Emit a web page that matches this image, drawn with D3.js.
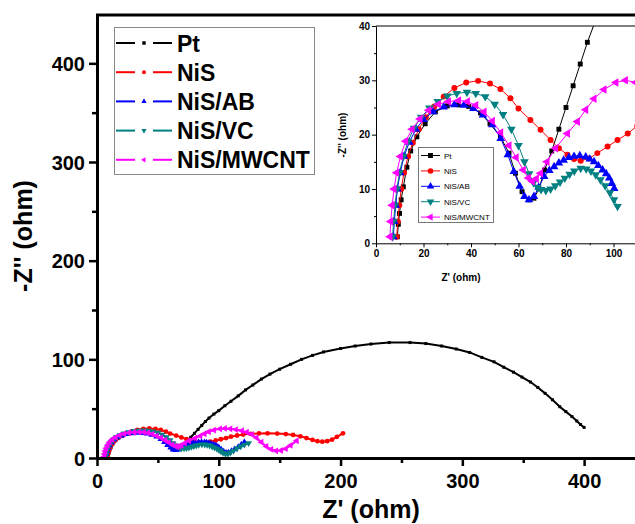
<!DOCTYPE html>
<html>
<head>
<meta charset="utf-8">
<script src="https://cdn.jsdelivr.net/npm/d3@7"></script>
<style>
  body { margin: 0; background: #fff; }
  text { font-family: "Liberation Sans", Arial, sans-serif; }
</style>
</head>
<body>
<div id="chart"></div>
<script>
const width = 635;
const height = 524;

// series names and colours
const names = ["Pt", "NiS", "NiS/AB", "NiS/VC", "NiS/MWCNT"];
const colors = ["#000000", "#ff0000", "#0000ff", "#008080", "#ff00ff"];

// [Z', -Z''] pairs
const ptData = [[9,1.2],[9.4,3.5],[9.9,5.5],[10.6,8],[11.5,10.4],[13,14],[14.6,17],[17.2,19.6],[20.7,22],[25,24.2],[30,25.3],[34.8,25.5],[39,25.2],[44,24],[48,22],[52.4,19.6],[56,16.6],[58.7,12.9],[61.5,9.5],[64.4,8],[66.5,8.3],[68.6,10],[71,13.5],[74,17],[77,21],[80,25],[83,29],[86,33],[89,37],[92,40.5],[96,44.5],[100,48],[105,53],[110,57.5],[116,63],[122,69],[128,74],[135,80],[142,85],[150,90],[159,95],[168,100],[177,104],[186,107.5],[200,111],[212,113.5],[225,115.5],[240,117],[257,117],[270,116],[283,113.5],[295,110.5],[306,107],[316,102],[326,97.5],[334,92],[342,87],[349,82],[356,77],[362,71.5],[368,65.5],[374,59],[380,52],[385,47],[390,42],[394,37.5],[397,34],[400,31]];
const nisData = [[8.7,1.2],[9.2,4],[9.8,7],[10.6,10],[11.8,13],[13.5,16],[15.5,18.5],[18,21],[21,23.2],[24.5,25.2],[28.5,27],[33,28.6],[38,29.6],[43,29.9],[48,29.4],[52.4,28.4],[56.6,26.7],[60,24.8],[65,22.7],[69.3,20.9],[73.5,19],[77,17.5],[80.6,16.3],[83.4,15.5],[86.2,15.2],[89.7,15.6],[93.2,16.6],[97.5,17.8],[101.7,19],[106,20.2],[110,21.6],[115,22.8],[120,23.8],[126,24.5],[133,24.9],[140,25],[148,24.8],[155,24.3],[161,23.4],[167,22],[172,20.2],[177,18.3],[181,17],[185,16.5],[189,17],[193,18.6],[197,21.5],[202,25]];
const abData = [[7.3,1.2],[7.7,4],[8.3,7],[9,10],[10.2,13],[11.8,16],[14,18.6],[16.8,21],[20,22.8],[24,24.2],[28.5,25.1],[33,25.5],[37,25.4],[41,24.8],[45,23.6],[49,21.8],[52.5,19.3],[55.5,16.3],[58,13.2],[60.5,10.5],[62.5,8.6],[64.4,8],[66.5,8.6],[68.5,10.3],[70.8,12.3],[73,13.4],[75,14.1],[77,14.8],[79,15.3],[81.2,15.8],[83.4,16],[85.8,16.1],[88.3,15.9],[90,15.5],[91.8,15],[93.6,14.3],[95.4,13.5],[96.9,12.8],[98.2,12],[99.3,11],[100.3,10.1],[102,8.5],[104,6.5],[106,5.2],[108,5.5],[110.5,7],[113,8.8],[116,11],[118.5,13.5],[121,16]];
const vcData = [[7,1.2],[7.4,4],[8,7],[8.8,10],[9.9,13],[11.5,16],[13.5,18.8],[16,21.2],[19,23.2],[22.5,24.9],[26,26.1],[30,27.1],[34,27.6],[38.3,27.8],[42,27.6],[46,27],[50,25.6],[53.5,23.7],[57,21],[60,18],[62.5,15],[64.5,12.8],[66.3,11.2],[68,10.3],[69.5,9.9],[71.5,9.7],[73.5,10],[75.5,10.6],[77.5,11.3],[79.5,12],[81.5,12.7],[83.5,13.3],[86.2,13.8],[88.5,13.7],[90.5,13.3],[92.5,12.6],[94.5,11.7],[96.5,10.6],[98.5,9.3],[100.2,8],[101.7,6.8],[103.5,5.2],[105.5,4.2],[107.5,4.3],[109.5,5.5],[112,7.5],[115,9.8],[118,11.8],[121,13.5],[124.5,15]];
const mwcntData = [[5.9,1.2],[6.2,4],[6.8,7],[7.6,10],[8.7,13],[10.3,16],[12.5,18.8],[15.2,21],[18.5,22.9],[22.2,24.5],[26.3,25.6],[30.5,26.1],[34.8,26.3],[38.5,26.1],[42,25.4],[45.5,24.2],[49,22.5],[52.5,20.4],[56,18],[59,15.8],[62,13.5],[64.2,12],[65.8,11.4],[67.5,11.9],[69.3,12.9],[72,15],[75.6,17.5],[80.6,20.2],[84.8,22.4],[88.3,24.6],[91.8,26.6],[96,28.3],[101,29.6],[105,30],[109.4,29.6],[114,28.8],[119,27.6],[123,26.2],[127,24],[131,20.5],[135,16],[139,11.8],[143,8.8],[147,7.3],[151,7.6],[155,9.5],[159,12.8],[164,17.5]];

const allData = [ptData, nisData, abData, vcData, mwcntData];

// the inset only shows AB and VC up to here
const insetLast = [Infinity, Infinity, 100.5, 102, Infinity];

// tick values
const mainXTicks = [0, 100, 200, 300, 400];
const mainXMinor = [50, 150, 250, 350, 450];
const mainYTicks = [0, 100, 200, 300, 400];
const mainYMinor = [50, 150, 250, 350];
const insetXTicks = [0, 20, 40, 60, 80, 100];
const insetXMinor = [10, 30, 50, 70, 90, 110];
const insetYTicks = [0, 10, 20, 30, 40];
const insetYMinor = [5, 15, 25, 35];

// marker shapes (symbol, rotation)
const shapes = [
    [d3.symbolSquare, 0],
    [d3.symbolCircle, 0],
    [d3.symbolTriangle, 0],
    [d3.symbolTriangle, 180],
    [d3.symbolTriangle, -90]
];

const svg = d3.select("#chart").append("svg")
    .attr("width", width)
    .attr("height", height);

svg.append("rect").attr("width", width).attr("height", height).attr("fill", "#fff");

// main scales
const x = d3.scaleLinear().domain([0, 450]).range([97, 645]);
const y = d3.scaleLinear().domain([0, 450]).range([458, 14]);

function drawSeries(g, xs, ys, sizes, lineW, limits) {
    allData.forEach(function (all, i) {
        const data = all.filter(d => d[0] <= limits[i]);
        const line = d3.line().x(d => xs(d[0])).y(d => ys(d[1]));
        g.append("path")
            .datum(data)
            .attr("d", line)
            .attr("fill", "none")
            .attr("stroke", colors[i])
            .attr("stroke-width", lineW);
        g.selectAll(".m" + i)
            .data(data)
            .enter()
            .append("path")
            .attr("class", "m" + i)
            .attr("d", d3.symbol().type(shapes[i][0]).size(sizes[i]))
            .attr("transform", d => "translate(" + xs(d[0]) + "," + ys(d[1]) + ") rotate(" + shapes[i][1] + ")")
            .attr("fill", colors[i]);
    });
}

// ---- main plot ----
svg.append("defs").append("clipPath").attr("id", "mainClip")
    .append("rect").attr("x", 97).attr("y", 14).attr("width", 540).attr("height", 446);

const mainG = svg.append("g").attr("clip-path", "url(#mainClip)");
drawSeries(mainG, x, y, [9, 18, 20, 20, 20], 2, [Infinity, Infinity, Infinity, Infinity, Infinity]);

// axes
const xAxis = svg.append("g").attr("transform", "translate(0,458)")
    .call(d3.axisBottom(x).tickValues(mainXTicks).tickSize(8).tickSizeOuter(0).tickPadding(8));
svg.append("g").attr("transform", "translate(0,458)")
    .call(d3.axisBottom(x).tickValues(mainXMinor).tickSize(5).tickFormat(""))
    .select(".domain").remove();
const yAxis = svg.append("g").attr("transform", "translate(97,0)")
    .call(d3.axisLeft(y).tickValues(mainYTicks).tickSize(8).tickSizeOuter(0).tickPadding(4));
svg.append("g").attr("transform", "translate(97,0)")
    .call(d3.axisLeft(y).tickValues(mainYMinor).tickSize(5).tickFormat(""))
    .select(".domain").remove();

svg.selectAll(".domain").attr("stroke-width", 3);
svg.selectAll(".tick line").attr("stroke-width", 2.5);
xAxis.selectAll("text").attr("font-size", 20).attr("font-weight", "bold").attr("fill", "#000");
yAxis.selectAll("text").attr("font-size", 20).attr("font-weight", "bold").attr("fill", "#000").attr("dy", "0.36em");

// top frame line
svg.append("line").attr("x1", 96).attr("x2", 635).attr("y1", 15).attr("y2", 15)
    .attr("stroke", "#000").attr("stroke-width", 3);

// axis titles
svg.append("text").attr("x", 371).attr("y", 518).attr("text-anchor", "middle")
    .attr("font-size", 25).attr("font-weight", "bold").text("Z' (ohm)");
svg.append("text").attr("transform", "translate(32,236) rotate(-90)").attr("text-anchor", "middle")
    .attr("font-size", 25).attr("font-weight", "bold").text("-Z'' (ohm)");

// main legend
const leg = svg.append("g");
leg.append("rect").attr("x", 114.5).attr("y", 27.5).attr("width", 200).attr("height", 147)
    .attr("fill", "#fff").attr("stroke", "#888").attr("stroke-width", 1);
names.forEach(function (n, i) {
    const ly = 43 + i * 29.2;
    leg.append("line").attr("x1", 116).attr("x2", 135).attr("y1", ly).attr("y2", ly)
        .attr("stroke", colors[i]).attr("stroke-width", 2);
    leg.append("line").attr("x1", 153).attr("x2", 172).attr("y1", ly).attr("y2", ly)
        .attr("stroke", colors[i]).attr("stroke-width", 2);
    leg.append("path")
        .attr("d", d3.symbol().type(shapes[i][0]).size(12))
        .attr("transform", "translate(144," + ly + ") rotate(" + shapes[i][1] + ")")
        .attr("fill", colors[i]);
    leg.append("text").attr("x", 177).attr("y", ly + 8.5)
        .attr("font-size", 23).attr("font-weight", "bold").text(n);
});

// ---- inset ----
const ix = d3.scaleLinear().domain([0, 120]).range([376, 661]);
const iy = d3.scaleLinear().domain([0, 40]).range([243.3, 26]);

svg.append("defs").append("clipPath").attr("id", "insetClip")
    .append("rect").attr("x", 370).attr("y", 26).attr("width", 268).attr("height", 222);

const insetG = svg.append("g").attr("clip-path", "url(#insetClip)");
drawSeries(insetG, ix, iy, [24, 28, 32, 32, 32], 1, insetLast);

const ixAxis = svg.append("g").attr("transform", "translate(0,243.3)")
    .call(d3.axisBottom(ix).tickValues(insetXTicks).tickSize(4).tickSizeOuter(0).tickPadding(3));
svg.append("g").attr("transform", "translate(0,243.3)")
    .call(d3.axisBottom(ix).tickValues(insetXMinor).tickSize(2).tickFormat(""))
    .select(".domain").remove();
const iyAxis = svg.append("g").attr("transform", "translate(376,0)")
    .call(d3.axisLeft(iy).tickValues(insetYTicks).tickSize(4).tickSizeOuter(0).tickPadding(2));
svg.append("g").attr("transform", "translate(376,0)")
    .call(d3.axisLeft(iy).tickValues(insetYMinor).tickSize(2).tickFormat(""))
    .select(".domain").remove();
[ixAxis, iyAxis].forEach(function (a) {
    a.select(".domain").attr("stroke-width", 1);
    a.selectAll(".tick line").attr("stroke-width", 1);
    a.selectAll("text").attr("font-size", 10).attr("font-weight", "bold").attr("fill", "#000");
});
svg.append("line").attr("x1", 376).attr("x2", 635).attr("y1", 26).attr("y2", 26)
    .attr("stroke", "#000").attr("stroke-width", 1);

svg.append("text").attr("x", 461).attr("y", 281).attr("text-anchor", "middle")
    .attr("font-size", 10).attr("font-weight", "bold").text("Z' (ohm)");
svg.append("text").attr("transform", "translate(346,135) rotate(-90)").attr("text-anchor", "middle")
    .attr("font-size", 10).attr("font-weight", "bold").text("-Z'' (ohm)");

// inset legend
const ileg = svg.append("g");
ileg.append("rect").attr("x", 418.5).attr("y", 147.5).attr("width", 75).attr("height", 75)
    .attr("fill", "#fff").attr("stroke", "#777").attr("stroke-width", 1);
names.forEach(function (n, i) {
    const ly = 155.5 + i * 15.4;
    ileg.append("line").attr("x1", 421).attr("x2", 440).attr("y1", ly).attr("y2", ly)
        .attr("stroke", colors[i]).attr("stroke-width", 1);
    ileg.append("path")
        .attr("d", d3.symbol().type(shapes[i][0]).size(24))
        .attr("transform", "translate(430.5," + ly + ") rotate(" + shapes[i][1] + ")")
        .attr("fill", colors[i]);
    ileg.append("text").attr("x", 444).attr("y", ly + 3)
        .attr("font-size", 8).text(n);
});
</script>
</body>
</html>
